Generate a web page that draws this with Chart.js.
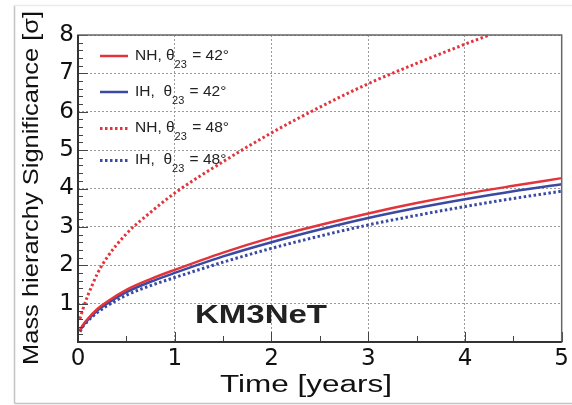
<!DOCTYPE html>
<html><head><meta charset="utf-8">
<script src="https://cdn.jsdelivr.net/npm/chart.js@4.4.0/dist/chart.umd.min.js"></script>
<style>html,body{margin:0;padding:0;background:#fff;}#wrap{width:572px;height:405px;}</style>
</head><body><div id="wrap"><canvas id="c" width="572" height="405"></canvas></div>
<script>
// ---- data ----
const times = [0.02, 0.05, 0.1, 0.2, 0.3, 0.5, 0.75, 1, 1.5, 2, 2.5, 3, 3.5, 4, 4.5, 5];
const nh42 = [0.3, 0.44, 0.6, 0.86, 1.05, 1.36, 1.64, 1.88, 2.33, 2.72, 3.05, 3.35, 3.62, 3.86, 4.07, 4.27];
const ih42 = [0.29, 0.42, 0.57, 0.82, 1.0, 1.3, 1.57, 1.8, 2.23, 2.6, 2.93, 3.23, 3.49, 3.72, 3.93, 4.11];
const ih48 = [0.27, 0.4, 0.54, 0.77, 0.94, 1.22, 1.47, 1.68, 2.08, 2.44, 2.76, 3.05, 3.3, 3.53, 3.74, 3.93];
const nh48Times = [0.02, 0.05, 0.1, 0.15, 0.2, 0.3, 0.5, 0.75, 1, 1.5, 2, 2.5, 3, 3.5, 4, 4.25];
const nh48 = [0.6, 0.85, 1.2, 1.5, 1.78, 2.2, 2.82, 3.38, 3.88, 4.7, 5.45, 6.12, 6.73, 7.26, 7.76, 8.0];
const xTickLabels = ['0', '1', '2', '3', '4', '5'];
const yTickLabels = ['', '1', '2', '3', '4', '5', '6', '7', '8'];
const hierarchies = ['NH', 'IH', 'NH', 'IH'];
const angles = ['42°', '42°', '48°', '48°'];
const seriesLabels = ['NH, θ23 = 42°', 'IH, θ23 = 42°', 'NH, θ23 = 48°', 'IH, θ23 = 48°'];
const xTitle = 'Time [years]';
const yTitle = 'Mass hierarchy Significance [σ]';
const tagText = 'KM3NeT';

const RED = '#e3343c', BLUE = '#3a4aa2';
const pts = (xs, ys) => xs.map((x, i) => ({x: x, y: ys[i]}));

function drawScaled(ctx, text, targetW) {
  const w = ctx.measureText(text).width;
  ctx.save(); ctx.scale(targetW / w, 1); ctx.fillText(text, 0, 0); ctx.restore();
}

const decor = {
  id: 'decor',
  afterDraw(chart) {
    const ctx = chart.ctx, a = chart.chartArea;
    const xs = chart.scales.x, ys = chart.scales.y;
    ctx.save();
    // outer light frame
    ctx.strokeStyle = '#c4c4c4'; ctx.lineWidth = 1.5;
    ctx.beginPath(); ctx.moveTo(14.5, 403.5); ctx.lineTo(14.5, 5.5); ctx.stroke();
    ctx.beginPath(); ctx.moveTo(14.5, 403.5); ctx.lineTo(572, 403.5); ctx.stroke();
    ctx.strokeStyle = '#ececec';
    ctx.beginPath(); ctx.moveTo(14.5, 5.5); ctx.lineTo(572, 5.5); ctx.stroke();
    // inner ticks
    ctx.strokeStyle = '#444'; ctx.lineWidth = 1;
    for (let k = 0; k <= 40; k++) {
      const v = k * 0.2, py = Math.round(ys.getPixelForValue(v)) + 0.5;
      const len = (k % 5 === 0) ? 10 : 5;
      ctx.beginPath(); ctx.moveTo(a.left, py); ctx.lineTo(a.left + len, py); ctx.stroke();
    }
    for (let k = 0; k <= 10; k++) {
      const v = k * 0.5, px = Math.round(xs.getPixelForValue(v)) + 0.5;
      const len = (k % 2 === 0) ? 10 : 6;
      ctx.beginPath(); ctx.moveTo(px, a.bottom); ctx.lineTo(px, a.bottom - len); ctx.stroke();
    }
    // frame
    ctx.strokeStyle = '#666'; ctx.lineWidth = 1.5;
    ctx.strokeRect(a.left, a.top, a.right - a.left, a.bottom - a.top);
    ctx.strokeStyle = '#333'; ctx.lineWidth = 2;
    ctx.beginPath(); ctx.moveTo(a.left, a.top); ctx.lineTo(a.left, a.bottom); ctx.lineTo(a.right, a.bottom); ctx.stroke();

    // titles
    ctx.fillStyle = '#111'; ctx.textBaseline = 'alphabetic'; ctx.textAlign = 'left';
    ctx.font = '23px "Liberation Sans", Arial, sans-serif';
    ctx.save(); ctx.translate(220, 391.5); drawScaled(ctx, xTitle, 172); ctx.restore();
    ctx.save(); ctx.translate(37.5, 365); ctx.rotate(-Math.PI / 2);
    ctx.font = '22px "Liberation Sans", Arial, sans-serif';
    drawScaled(ctx, yTitle, 354); ctx.restore();
    // tag
    ctx.fillStyle = '#222';
    ctx.font = 'bold 25px "Liberation Sans", Arial, sans-serif';
    ctx.save(); ctx.translate(195, 323); drawScaled(ctx, tagText, 132); ctx.restore();

    // legend
    const baselines = [59.5, 95.5, 132, 164];
    chart.data.datasets.forEach((ds, i) => {
      const b = baselines[i], ly = b - 3.5;
      ctx.save();
      ctx.strokeStyle = ds.borderColor; ctx.lineWidth = ds.borderWidth;
      ctx.setLineDash(ds.borderDash || []); ctx.lineCap = 'butt';
      ctx.beginPath(); ctx.moveTo(100, ly); ctx.lineTo(128, ly); ctx.stroke();
      ctx.restore();
      ctx.fillStyle = '#222';
      ctx.font = '15.5px "Liberation Sans", Arial, sans-serif';
      let x = 135;
      const pre = hierarchies[i] + (hierarchies[i] === 'IH' ? ',  ' : ', ');
      ctx.fillText(pre, x, b); x += ctx.measureText(pre).width;
      ctx.fillText('θ', x, b); x += ctx.measureText('θ').width;
      ctx.font = '11px "Liberation Sans", Arial, sans-serif';
      ctx.fillText('23', x, b + 8); x += ctx.measureText('23').width + 1;
      ctx.font = '15.5px "Liberation Sans", Arial, sans-serif';
      ctx.fillText(' = ' + angles[i], x, b);
    });
    ctx.restore();
  }
};

new Chart(document.getElementById('c'), {
  type: 'line',
  data: {
    datasets: [
      {label: seriesLabels[0], data: pts(times, nh42), borderColor: RED, borderWidth: 2.5},
      {label: seriesLabels[1], data: pts(times, ih42), borderColor: BLUE, borderWidth: 2.5},
      {label: seriesLabels[2], data: pts(nh48Times, nh48), borderColor: RED, borderWidth: 3, borderDash: [2.5, 2.5]},
      {label: seriesLabels[3], data: pts(times, ih48), borderColor: BLUE, borderWidth: 3, borderDash: [2.5, 2.5]}
    ].map(d => Object.assign({pointRadius: 0, fill: false, cubicInterpolationMode: 'monotone', borderCapStyle: 'butt'}, d))
  },
  options: {
    responsive: false, animation: false, devicePixelRatio: 1,
    layout: {padding: {top: 35, right: 7, left: 0, bottom: 0}},
    plugins: {legend: {display: false}, tooltip: {enabled: false}},
    scales: {
      x: {
        type: 'linear', min: 0, max: 5,
        afterFit: s => { s.height = 63; },
        afterBuildTicks: s => { s.ticks = xTickLabels.map(t => ({value: Number(t)})); },
        ticks: {callback: (v, i) => xTickLabels[i], padding: 3, color: '#111', maxRotation: 0,
                font: {family: '"DejaVu Sans", sans-serif', size: 23}},
        grid: {color: '#9a9a9a', lineWidth: 1, drawTicks: false},
        border: {display: false, dash: [2, 2]}
      },
      y: {
        min: 0, max: 8,
        afterFit: s => { s.width = 78; },
        afterBuildTicks: s => { s.ticks = yTickLabels.map((t, i) => ({value: i})); },
        ticks: {callback: (v, i) => yTickLabels[i], padding: 4, color: '#111',
                font: {family: '"DejaVu Sans", sans-serif', size: 23}},
        grid: {color: '#9a9a9a', lineWidth: 1, drawTicks: false},
        border: {display: false, dash: [2, 2]}
      }
    }
  },
  plugins: [decor]
});
</script></body></html>
